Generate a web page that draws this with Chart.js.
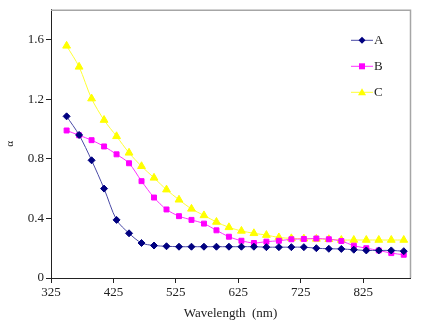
<!DOCTYPE html>
<html>
<head>
<meta charset="utf-8">
<script src="https://cdn.jsdelivr.net/npm/chart.js@4"></script>
<style>
  html, body { margin: 0; padding: 0; background: #fff; }
  #wrap { width: 421px; height: 321px; }
</style>
</head>
<body>
<div id="wrap"><canvas id="chart" width="421" height="321"></canvas></div>
<script>
// wavelength (nm)
const wavelengths = [350, 370, 390, 410, 430, 450, 470, 490, 510, 530, 550, 570, 590, 610,
  630, 650, 670, 690, 710, 730, 750, 770, 790, 810, 830, 850, 870, 890];

const seriesA = [1.085, 0.96, 0.79, 0.60, 0.39, 0.30, 0.235, 0.218, 0.213, 0.21, 0.21, 0.21, 0.21, 0.21,
  0.21, 0.21, 0.207, 0.207, 0.207, 0.207, 0.20, 0.196, 0.195, 0.19, 0.185, 0.185, 0.185, 0.18];
const seriesB = [0.99, 0.958, 0.925, 0.883, 0.83, 0.77, 0.65, 0.54, 0.46, 0.415, 0.39, 0.365, 0.32, 0.277,
  0.25, 0.235, 0.244, 0.25, 0.26, 0.262, 0.265, 0.26, 0.248, 0.217, 0.20, 0.185, 0.167, 0.156];
const seriesC = [1.558, 1.417, 1.204, 1.06, 0.951, 0.84, 0.75, 0.672, 0.593, 0.525, 0.464, 0.42, 0.376, 0.34,
  0.316, 0.30, 0.288, 0.272, 0.266, 0.264, 0.262, 0.26, 0.255, 0.255, 0.255, 0.255, 0.255, 0.255];

const xTicks = [325, 425, 525, 625, 725, 825];
const yTicks = [0, 0.4, 0.8, 1.2, 1.6];

const FONT = "'Liberation Serif', 'Times New Roman', serif";
const INK = '#222';

const toPoints = vals => vals.map((v, i) => ({ x: wavelengths[i], y: v }));

// grey frame on top/right of the plot area
const framePlugin = {
  id: 'frame',
  afterDraw(chart) {
    const { ctx, chartArea: a } = chart;
    ctx.save();
    ctx.strokeStyle = '#a6a6a6';
    ctx.lineWidth = 1.5;
    ctx.beginPath();
    ctx.moveTo(a.left, a.top + 0.5);
    ctx.lineTo(a.right + 0.5, a.top + 0.5);
    ctx.lineTo(a.right + 0.5, a.bottom);
    ctx.stroke();
    ctx.restore();
  }
};

// legend inside the plot: short line + marker + label
const legendPlugin = {
  id: 'innerLegend',
  afterDraw(chart) {
    const { ctx, chartArea: a } = chart;
    const x0 = a.right - 59, x1 = x0 + 22;
    ctx.save();
    chart.data.datasets.forEach((ds, i) => {
      const y = a.top + 30.5 + i * 26;
      ctx.strokeStyle = ds.borderColor;
      ctx.lineWidth = 1;
      ctx.beginPath();
      ctx.moveTo(x0, y);
      ctx.lineTo(x1, y);
      ctx.stroke();
      const cx = (x0 + x1) / 2;
      ctx.fillStyle = ds.pointBackgroundColor;
      ctx.beginPath();
      if (ds.pointStyle === 'rectRot') {
        ctx.moveTo(cx, y - 3.5); ctx.lineTo(cx + 3.5, y); ctx.lineTo(cx, y + 3.5); ctx.lineTo(cx - 3.5, y);
      } else if (ds.pointStyle === 'rect') {
        ctx.rect(cx - 3, y - 3, 6, 6);
      } else {
        ctx.moveTo(cx, y - 4); ctx.lineTo(cx + 4, y + 3); ctx.lineTo(cx - 4, y + 3);
      }
      ctx.closePath();
      ctx.fill();
      ctx.fillStyle = INK;
      ctx.font = `13px ${FONT}`;
      ctx.textBaseline = 'middle';
      ctx.fillText(ds.label, x1 + 1, y + 0.5);
    });
    ctx.restore();
  }
};

new Chart(document.getElementById('chart'), {
  type: 'line',
  data: {
    datasets: [
      {
        label: 'A',
        data: toPoints(seriesA),
        borderColor: '#4a4aa6',
        pointBackgroundColor: '#000080',
        pointBorderColor: '#000080',
        pointStyle: 'rectRot',
        pointRadius: 3.5,
        borderWidth: 1,
        tension: 0.3,
      },
      {
        label: 'B',
        data: toPoints(seriesB),
        borderColor: '#ff33ff',
        pointBackgroundColor: '#ff00ff',
        pointBorderColor: '#ff00ff',
        pointStyle: 'rect',
        pointRadius: 3.5,
        borderWidth: 1,
        tension: 0.3,
      },
      {
        label: 'C',
        data: toPoints(seriesC),
        borderColor: '#ffff33',
        pointBackgroundColor: '#ffff00',
        pointBorderColor: '#ffff00',
        pointStyle: 'triangle',
        pointRadius: 4.5,
        borderWidth: 1,
        tension: 0.3,
      },
    ]
  },
  options: {
    responsive: false,
    animation: false,
    layout: { padding: { top: 5, right: 11, left: 0, bottom: 0 } },
    plugins: {
      legend: { display: false },
      tooltip: { enabled: false },
    },
    scales: {
      x: {
        type: 'linear',
        min: 325,
        max: 900,
        afterBuildTicks: s => { s.ticks = xTicks.map(v => ({ value: v })); },
        afterFit: s => { s.height = 43; },
        grid: { drawOnChartArea: false, tickLength: 5, color: INK },
        border: { color: INK, width: 1 },
        ticks: { color: INK, font: { family: FONT, size: 13 }, padding: 2, maxRotation: 0 },
        title: { display: true, text: 'Wavelength  (nm)', color: INK, font: { family: FONT, size: 13 }, padding: { top: 0, bottom: 0 } },
      },
      y: {
        min: 0,
        max: 1.8,
        afterBuildTicks: s => { s.ticks = yTicks.map(v => ({ value: v })); },
        afterFit: s => { s.width = 51; },
        grid: { drawOnChartArea: false, tickLength: 5, color: INK },
        border: { color: INK, width: 1 },
        ticks: { color: INK, font: { family: FONT, size: 13 }, padding: 2, callback: v => v === 0 ? '0' : v.toFixed(1) },
        title: { display: true, text: 'α', color: INK, font: { family: FONT, size: 11 }, padding: { top: 4, bottom: 0 } },
      }
    }
  },
  plugins: [framePlugin, legendPlugin]
});
</script>
</body>
</html>
